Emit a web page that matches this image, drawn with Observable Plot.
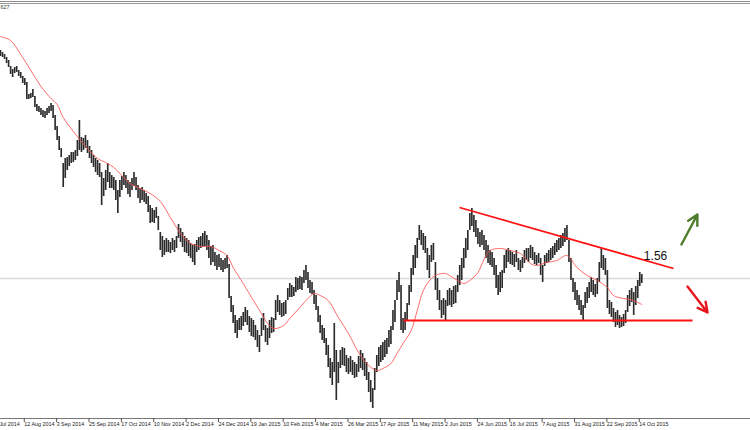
<!DOCTYPE html>
<html>
<head>
<meta charset="utf-8">
<script src="https://cdn.jsdelivr.net/npm/d3@7"></script>
<script src="https://cdn.jsdelivr.net/npm/@observablehq/plot@0.6"></script>
<style>
  html, body { margin: 0; padding: 0; background: #fff; overflow: hidden; }
  #wrap { padding-top: 1px; }
  #wrap svg { border-top: 1px solid #8a8a8a; display: block; }
</style>
</head>
<body>
<div id="wrap"></div>
<script>
// Daily bar highs / lows (price), one per trading day, Jul 2014 – Oct 2015
const highs = [
  1.772,1.770,1.768,1.765,1.762,1.756,1.753,1.755,1.756,1.752,
  1.750,1.746,1.744,1.740,1.728,1.729,1.733,1.726,1.718,1.716,
  1.714,1.712,1.711,1.714,1.716,1.719,1.717,1.707,1.696,1.686,
  1.674,1.659,1.664,1.665,1.667,1.670,1.670,1.672,1.682,1.702,
  1.685,1.684,1.687,1.682,1.676,1.672,1.667,1.664,1.662,1.659,
  1.650,1.644,1.652,1.659,1.650,1.647,1.645,1.642,1.632,1.642,
  1.646,1.650,1.647,1.642,1.640,1.644,1.650,1.645,1.637,1.634,
  1.635,1.632,1.629,1.626,1.617,1.614,1.612,1.615,1.606,1.590,
  1.586,1.582,1.584,1.582,1.580,1.584,1.582,1.586,1.598,1.594,
  1.590,1.586,1.584,1.582,1.579,1.577,1.578,1.582,1.585,1.586,
  1.589,1.591,1.587,1.582,1.576,1.577,1.570,1.567,1.568,1.564,
  1.562,1.564,1.567,1.558,1.526,1.517,1.507,1.502,1.504,1.506,
  1.510,1.515,1.512,1.506,1.504,1.502,1.497,1.492,1.487,1.504,
  1.509,1.497,1.494,1.502,1.505,1.504,1.522,1.527,1.522,1.519,
  1.520,1.522,1.534,1.539,1.537,1.535,1.545,1.544,1.546,1.545,
  1.552,1.557,1.550,1.542,1.540,1.532,1.527,1.516,1.507,1.497,
  1.494,1.484,1.477,1.464,1.460,1.499,1.472,1.460,1.472,1.475,
  1.474,1.467,1.464,1.466,1.462,1.460,1.458,1.466,1.472,1.469,
  1.464,1.460,1.450,1.442,1.434,1.454,1.467,1.475,1.477,1.480,
  1.482,1.484,1.492,1.496,1.512,1.522,1.542,1.550,1.537,1.504,
  1.510,1.519,1.537,1.554,1.567,1.577,1.584,1.597,1.592,1.589,
  1.586,1.574,1.567,1.577,1.579,1.560,1.544,1.532,1.522,1.524,
  1.522,1.532,1.534,1.532,1.536,1.537,1.547,1.557,1.564,1.574,
  1.584,1.592,1.609,1.614,1.607,1.602,1.594,1.590,1.592,1.587,
  1.582,1.577,1.572,1.570,1.564,1.557,1.547,1.550,1.552,1.567,
  1.572,1.574,1.572,1.570,1.568,1.572,1.564,1.562,1.565,1.572,
  1.574,1.574,1.577,1.575,1.570,1.567,1.569,1.564,1.557,1.567,
  1.569,1.572,1.574,1.576,1.579,1.582,1.584,1.587,1.589,1.594,
  1.597,1.582,1.564,1.544,1.540,1.532,1.527,1.522,1.517,1.530,
  1.535,1.540,1.545,1.542,1.538,1.544,1.560,1.574,1.567,1.564,
  1.552,1.522,1.520,1.514,1.510,1.512,1.507,1.505,1.508,1.512,
  1.527,1.532,1.534,1.530,1.536,1.542,1.550,1.548
];
const lows = [
  1.766,1.765,1.763,1.759,1.755,1.748,1.745,1.749,1.750,1.746,
  1.744,1.739,1.737,1.723,1.723,1.724,1.725,1.715,1.711,1.710,
  1.707,1.705,1.704,1.707,1.709,1.711,1.704,1.692,1.682,1.672,
  1.665,1.635,1.644,1.652,1.656,1.659,1.660,1.662,1.666,1.672,
  1.670,1.672,1.674,1.669,1.664,1.659,1.655,1.650,1.647,1.645,
  1.617,1.626,1.632,1.640,1.634,1.634,1.632,1.622,1.609,1.625,
  1.632,1.637,1.634,1.628,1.625,1.632,1.636,1.632,1.624,1.619,
  1.622,1.620,1.618,1.610,1.599,1.600,1.599,1.604,1.592,1.572,
  1.565,1.567,1.570,1.570,1.569,1.572,1.570,1.574,1.584,1.580,
  1.575,1.570,1.569,1.566,1.564,1.560,1.557,1.570,1.572,1.574,
  1.575,1.576,1.572,1.564,1.557,1.560,1.556,1.552,1.555,1.552,
  1.550,1.553,1.554,1.524,1.510,1.499,1.489,1.484,1.492,1.492,
  1.496,1.500,1.497,1.490,1.486,1.485,1.482,1.475,1.470,1.486,
  1.492,1.480,1.477,1.484,1.489,1.490,1.502,1.510,1.507,1.505,
  1.506,1.508,1.522,1.525,1.525,1.526,1.530,1.532,1.533,1.532,
  1.539,1.542,1.534,1.529,1.528,1.518,1.512,1.500,1.489,1.482,
  1.479,1.467,1.455,1.444,1.437,1.450,1.422,1.439,1.454,1.457,
  1.456,1.450,1.448,1.450,1.447,1.444,1.445,1.450,1.454,1.452,
  1.446,1.442,1.430,1.420,1.414,1.432,1.450,1.456,1.460,1.462,
  1.465,1.468,1.475,1.478,1.492,1.500,1.522,1.530,1.492,1.489,
  1.492,1.502,1.517,1.530,1.547,1.554,1.564,1.582,1.577,1.572,
  1.569,1.552,1.544,1.560,1.562,1.532,1.522,1.512,1.504,1.507,
  1.502,1.516,1.517,1.515,1.518,1.519,1.530,1.537,1.542,1.554,
  1.564,1.572,1.592,1.596,1.590,1.585,1.578,1.575,1.577,1.572,
  1.564,1.559,1.557,1.555,1.547,1.534,1.527,1.530,1.534,1.549,
  1.554,1.560,1.558,1.557,1.555,1.560,1.552,1.550,1.554,1.559,
  1.562,1.560,1.564,1.562,1.558,1.557,1.559,1.547,1.540,1.556,
  1.559,1.560,1.562,1.564,1.567,1.570,1.572,1.574,1.576,1.580,
  1.582,1.560,1.542,1.530,1.522,1.517,1.512,1.507,1.501,1.514,
  1.519,1.524,1.530,1.527,1.525,1.528,1.540,1.554,1.552,1.547,
  1.514,1.508,1.505,1.500,1.495,1.497,1.494,1.495,1.496,1.499,
  1.510,1.516,1.520,1.507,1.517,1.524,1.536,1.539
];

// Moving average (bar index, price)
const maIndex = [0,5,10,15,20,25,28,31,36,40,43,48,53,56,59,64,69,74,79,84,89,94,99,104,108,112,115,120,125,129,132,135,140,143,148,152,155,158,162,167,172,177,181,186,189,193,196,199,203,206,209,213,216,220,222,226,229,232,236,239,242,247,252,257,262,265,270,275,280,285,290,295,300,303,308,313,317];
const maValue = [1.786,1.782,1.768,1.752,1.736,1.724,1.718,1.705,1.691,1.681,1.674,1.664,1.659,1.655,1.649,1.639,1.634,1.629,1.621,1.605,1.589,1.579,1.576,1.576,1.572,1.567,1.555,1.539,1.522,1.509,1.499,1.494,1.497,1.504,1.515,1.524,1.529,1.527,1.522,1.505,1.489,1.470,1.459,1.452,1.454,1.459,1.469,1.479,1.492,1.512,1.532,1.544,1.548,1.549,1.547,1.542,1.539,1.542,1.550,1.563,1.572,1.574,1.572,1.569,1.559,1.557,1.560,1.562,1.567,1.555,1.547,1.542,1.535,1.527,1.524,1.522,1.518];

// Date tick labels (every 16 trading days) and their bar index
const tickIndex = [-5,11,27,43,59,75,91,107,123,139,155,171,187,203,219,235,251,267,283,299,315];
const tickLabels = ["21 Jul 2014","12 Aug 2014","3 Sep 2014","25 Sep 2014","17 Oct 2014","10 Nov 2014","2 Dec 2014","24 Dec 2014","19 Jan 2015","10 Feb 2015","4 Mar 2015","26 Mar 2015","17 Apr 2015","11 May 2015","2 Jun 2015","24 Jun 2015","16 Jul 2015","7 Aug 2015","31 Aug 2015","22 Sep 2015","14 Oct 2015"];

// Current bid price line
const bidPrice = [1.544];

// Drawn annotations (bar index / price)
const trendLines = [
  {x1: 226.9, y1: 1.615, x2: 332.7, y2: 1.554},   // falling resistance
  {x1: 199.2, y1: 1.502, x2: 342.1, y2: 1.502}    // horizontal support
];
const levelLabel = [{x: 323.8, y: 1.566, text: "1.56"}];
const arrows = [
  {x1: 336.6, y1: 1.578, x2: 344.5, y2: 1.608, color: "#4b7d2b"},
  {x1: 339.6, y1: 1.536, x2: 349.5, y2: 1.510, color: "#e8161c"}
];
const headerText = ["627"];

const bars = highs.map((h, i) => ({i, high: h, low: lows[i]}));
const ma = maIndex.map((i, k) => ({i, v: maValue[k]}));
const labelOf = new Map(tickIndex.map((t, k) => [t, tickLabels[k]]));

const chart = Plot.plot({
  width: 750,
  height: 430,
  marginTop: 1,
  marginBottom: 14,
  marginLeft: 0,
  marginRight: 0,
  style: {fontFamily: "'Liberation Sans', Arial, sans-serif", background: "#fff"},
  x: {type: "linear", domain: [0, 370.74], axis: null},
  y: {domain: [1.404, 1.819], axis: null},
  marks: [
    Plot.ruleY(bidPrice, {stroke: "#dcdcdc", strokeWidth: 1.6}),
    Plot.frame({anchor: "top", stroke: "#9a9a9a"}),
    Plot.frame({anchor: "bottom", stroke: "#777"}),
    Plot.ruleX(bars, {x: "i", y1: "low", y2: "high", stroke: "#2b2b2b", strokeWidth: 1.65}),
    Plot.line(ma, {x: "i", y: "v", stroke: "#ff5050", strokeWidth: 0.85, curve: "catmull-rom"}),
    Plot.link(trendLines, {x1: "x1", y1: "y1", x2: "x2", y2: "y2", stroke: "#ff1010", strokeWidth: 1.8}),
    Plot.text(levelLabel, {x: "x", y: "y", text: "text", fontSize: 12, fill: "#111"}),
    Plot.arrow(arrows, {x1: "x1", y1: "y1", x2: "x2", y2: "y2", stroke: "color", strokeWidth: 2.4, headLength: 7, headAngle: 55}),
    Plot.axisX({
      ticks: tickIndex,
      tickFormat: d => labelOf.get(d),
      tickSize: 4,
      tickPadding: 0,
      textAnchor: "start",
      dx: 1.5,
      fontSize: 5.4,
      fill: "#222",
      stroke: "#555"
    }),
    Plot.text(headerText, {frameAnchor: "top-left", dx: 0, dy: 2, fontSize: 5.4, textAnchor: "start", lineAnchor: "top", fill: "#333"})
  ]
});
document.getElementById("wrap").appendChild(chart);
</script>
</body>
</html>
